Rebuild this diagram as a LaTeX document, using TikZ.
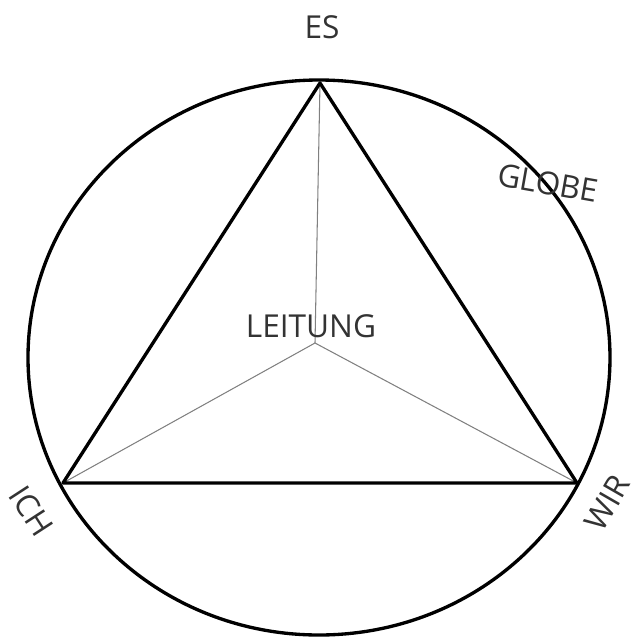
\documentclass[tikz,border=0pt]{standalone}
\usepackage{fontspec}
\setmainfont{Open Sans}
\begin{document}
\begin{tikzpicture}[x=0.02cm, y=-0.02cm,
		txt/.style={font=\fontsize{18}{21}\selectfont, text=black!80, inner sep=0pt},
		edge/.style={line width=1.9pt, line join=round},
		spoke/.style={gray, line width=0.6pt}]
			\useasboundingbox (0,0) rectangle (634,637);
			
			% globe
			\draw[edge] (319,357.5) ellipse [x radius=291, y radius=277.5];
			
			\coordinate (es) at (320,83);
			\coordinate (ich) at (63,483);
			\coordinate (wir) at (577,483);
			\coordinate (mid) at (315,343);
			
			% spokes to the centre
			\draw[spoke] (mid) -- (es);
			\draw[spoke] (mid) -- (ich);
			\draw[spoke] (mid) -- (wir);
			
			\draw[edge] (es) -- (ich) -- (wir) -- cycle;
			
			\node[txt] (lbl-es) at (322,27) {ES};
			\node[txt, rotate=-10] (lbl-globe) at (548,183) {GLOBE};
			\node[txt] (lbl-leitung) at (311,326) {LEITUNG};
			\node[txt, rotate=-57] (lbl-ich) at (31,511) {ICH};
			\node[txt, rotate=60] (lbl-wir) at (607,503) {WIR};
		\end{tikzpicture}
\end{document}
